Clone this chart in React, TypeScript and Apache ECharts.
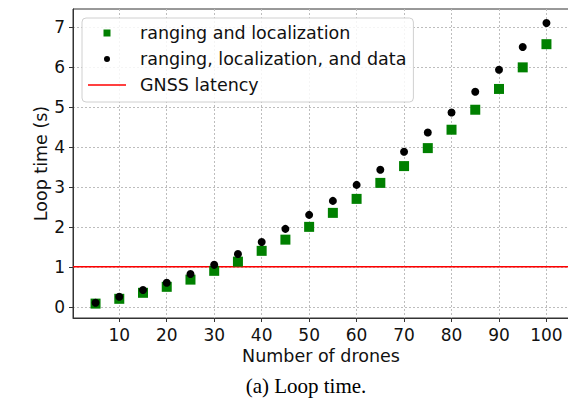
import React, { useEffect, useRef } from "react";
import * as echarts from "echarts";

const drones = [5, 10, 15, 20, 25, 30, 35, 40, 45, 50, 55, 60, 65, 70, 75, 80, 85, 90, 95, 100];
const rangingLoc = [0.08, 0.2, 0.35, 0.5, 0.68, 0.9, 1.13, 1.4, 1.68, 2.0, 2.35, 2.7, 3.1, 3.52, 3.97, 4.43, 4.93, 5.45, 5.99, 6.57];
const rangingLocData = [0.1, 0.25, 0.42, 0.6, 0.82, 1.05, 1.32, 1.62, 1.95, 2.3, 2.65, 3.05, 3.43, 3.88, 4.36, 4.86, 5.38, 5.93, 6.5, 7.1];
const gnssLatency = 1;
const xTicks = [10, 20, 30, 40, 50, 60, 70, 80, 90, 100];
const yTicks = [0, 1, 2, 3, 4, 5, 6, 7];
const seriesNames = ["ranging and localization", "ranging, localization, and data", "GNSS latency"];
const xLabel = "Number of drones";
const yLabel = "Loop time (s)";
const caption = "(a) Loop time.";

export default function App() {
  const ref = useRef<HTMLDivElement>(null);
  useEffect(() => {
    if (!ref.current) return;
    const chart = echarts.init(ref.current, undefined, { renderer: "svg" });
    const font = "DejaVu Sans";
    const fs = 17.5;
    const gridLine = { show: true, lineStyle: { color: "#bdbdbd", type: [2, 2], width: 1 } };
    chart.setOption({
      animation: false,
      backgroundColor: "#fff",
      textStyle: { fontFamily: font },
      grid: {
        left: 73, top: 9, width: 496, height: 309,
        outerBoundsMode: "none", containLabel: false,
        show: true, borderColor: "#333", borderWidth: 1, backgroundColor: "transparent",
      },
      legend: {
        orient: "vertical",
        left: 82,
        top: 18,
        padding: [5, 7, 7, 6],
        itemGap: 6,
        itemWidth: 38,
        itemHeight: 7,
        symbolKeepAspect: true,
        borderColor: "#d0d0d0",
        borderWidth: 1,
        borderRadius: 4,
        backgroundColor: "rgba(255,255,255,0.85)",
        textStyle: { fontFamily: font, fontSize: fs, color: "#111", padding: [0, 0, 0, 9], lineHeight: 20 },
        data: [
          { name: seriesNames[0], icon: "path://M0,0h7v7h-7z" },
          { name: seriesNames[1], icon: "path://M0,0L0.01,0Z M7,7L6.99,7Z M6.5,3.5A3,3 0 1,1 0.5,3.5A3,3 0 1,1 6.5,3.5Z" },
          { name: seriesNames[2], icon: "path://M0,0h38v1.5h-38z" },
        ],
      },
      xAxis: {
        type: "value",
        min: 0.25,
        max: 104.75,
        name: xLabel,
        nameLocation: "middle",
        nameGap: 29,
        nameMoveOverlap: false,
        nameTextStyle: { fontFamily: font, fontSize: fs, color: "#111" },
        axisLine: { show: true, onZero: false, lineStyle: { color: "#333" } },
        axisTick: { show: true, length: 4, lineStyle: { color: "#333" }, customValues: xTicks },
        axisLabel: { fontFamily: font, fontSize: 17, color: "#111", margin: 8, customValues: xTicks },
        splitLine: gridLine,
      },
      yAxis: {
        type: "value",
        min: -0.28,
        max: 7.45,
        name: yLabel,
        nameLocation: "middle",
        nameGap: 23,
        nameMoveOverlap: false,
        nameTextStyle: { fontFamily: font, fontSize: fs, color: "#111" },
        axisLine: { show: true, onZero: false, lineStyle: { color: "#333" } },
        axisTick: { show: true, length: 4, lineStyle: { color: "#333" }, customValues: yTicks },
        axisLabel: { fontFamily: font, fontSize: 17, color: "#111", margin: 8, customValues: yTicks },
        splitLine: gridLine,
      },
      graphic: [
        {
          type: "text",
          x: 306,
          y: 386,
          style: { text: caption, fontFamily: "Liberation Serif", fontSize: 21, fill: "#000", textAlign: "center", textVerticalAlign: "middle" },
        },
      ],
      series: [
        {
          name: seriesNames[0],
          type: "scatter",
          symbol: "rect",
          symbolSize: 10,
          itemStyle: { color: "#008000", opacity: 1 },
          data: drones.map((d, i) => [d, rangingLoc[i]]),
          z: 3,
        },
        {
          name: seriesNames[1],
          type: "scatter",
          symbol: "circle",
          symbolSize: 8,
          itemStyle: { color: "#000", opacity: 1 },
          data: drones.map((d, i) => [d, rangingLocData[i]]),
          z: 4,
        },
        {
          name: seriesNames[2],
          type: "line",
          symbol: "none",
          lineStyle: { color: "#ff0000", width: 1.5 },
          itemStyle: { color: "#ff0000" },
          data: [[0.25, gnssLatency], [104.75, gnssLatency]],
          z: 2,
        },
      ],
    });
    return () => chart.dispose();
  }, []);
  return <div ref={ref} style={{ position: "absolute", left: 0, top: 0, width: 568, height: 402 }} />;
}
